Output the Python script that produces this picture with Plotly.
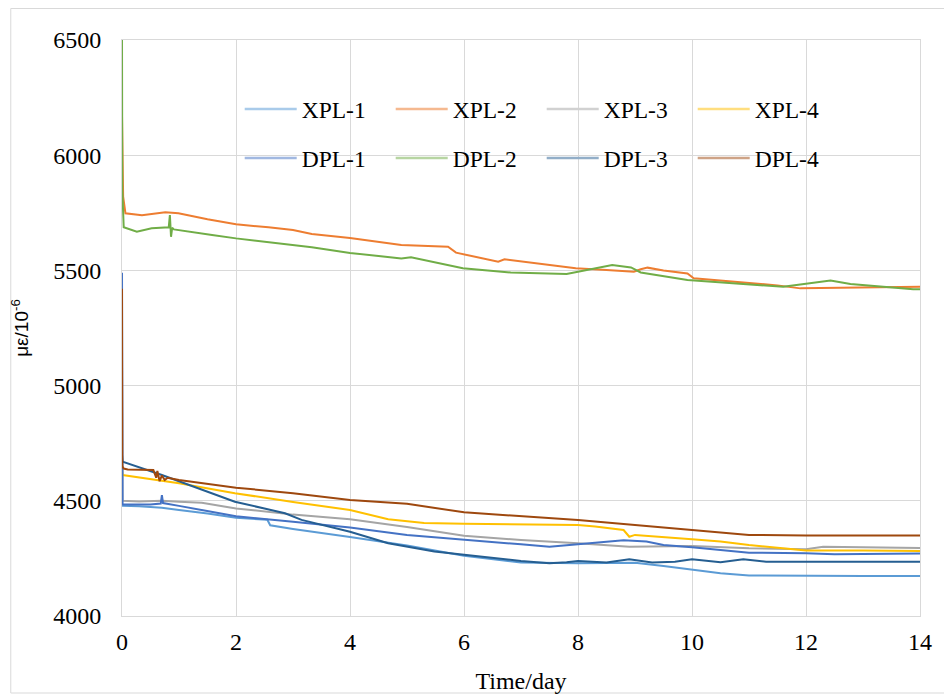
import plotly.graph_objects as go

# ---------------- data ----------------
XPL1_T = [0, 0.01, 0.3, 0.7, 1, 1.5, 2, 2.55, 2.6, 3, 4, 5, 6, 7, 8, 8.5, 9, 9.5, 10, 10.5, 11, 12, 13, 14]
XPL1_V = [4480, 4478, 4476, 4470, 4460, 4445, 4426, 4418, 4394, 4378, 4343, 4306, 4262, 4232, 4229, 4231, 4231, 4217, 4202, 4186, 4176, 4174, 4174, 4174]

XPL2_T = [0, 0.02, 0.06, 0.35, 0.76, 0.99, 1.5, 2, 2.57, 3, 3.33, 4, 4.9, 5.72, 5.86, 6.6, 6.71, 7.96, 8.5, 8.98, 9.1, 9.22, 9.5, 9.92, 10.03, 10.73, 11.5, 11.9, 13.07, 14]
XPL2_V = [6170, 5820, 5748, 5739, 5752, 5748, 5722, 5700, 5687, 5675, 5658, 5641, 5610, 5603, 5577, 5538, 5548, 5509, 5502, 5494, 5505, 5512, 5500, 5487, 5466, 5451, 5435, 5422, 5425, 5429]

XPL3_T = [0, 0.01, 0.3, 0.7, 1, 1.4, 2, 3, 4, 5, 6, 7, 8, 8.9, 10, 11, 12, 12.3, 13, 14]
XPL3_V = [5100, 4500, 4497, 4500, 4496, 4492, 4467, 4440, 4420, 4386, 4348, 4330, 4316, 4301, 4304, 4294, 4290, 4301, 4298, 4295]

XPL4_T = [0, 0.01, 1, 1.98, 3, 4, 4.67, 5.3, 6, 7, 8, 8.3, 8.8, 8.9, 9, 10, 10.5, 11, 11.5, 12, 13, 14]
XPL4_V = [4640, 4612, 4576, 4533, 4495, 4460, 4420, 4404, 4400, 4398, 4395, 4388, 4373, 4344, 4352, 4333, 4323, 4308, 4297, 4284, 4284, 4282]

DPL1_T = [0, 0.01, 0.5, 0.68, 0.7, 0.72, 1, 2, 3, 4, 5, 6, 7, 7.5, 8, 8.4, 8.8, 9.2, 9.5, 10, 10.5, 11, 12, 12.5, 14]
DPL1_V = [5490, 4484, 4484, 4488, 4525, 4490, 4478, 4433, 4409, 4384, 4352, 4330, 4311, 4301, 4312, 4323, 4329, 4323, 4308, 4298, 4287, 4275, 4272, 4268, 4271]

DPL2_T = [0, 0.005, 0.03, 0.26, 0.52, 0.82, 0.84, 0.86, 0.88, 0.91, 1.58, 2, 3.33, 4, 4.9, 5.07, 5.98, 6.82, 7.8, 8.17, 8.6, 8.93, 9.1, 9.92, 10.73, 11.6, 12.43, 12.78, 13.88, 14]
DPL2_V = [6500, 5850, 5687, 5668, 5683, 5687, 5740, 5646, 5685, 5678, 5654, 5639, 5600, 5576, 5552, 5557, 5509, 5491, 5484, 5502, 5523, 5513, 5491, 5458, 5444, 5429, 5456, 5441, 5418, 5418]

DPL3_T = [0, 0.01, 0.7, 1.17, 1.98, 2.86, 3.15, 4, 4.67, 5.48, 6.3, 7, 7.5, 7.8, 8, 8.5, 8.9, 9.3, 9.7, 10, 10.5, 10.9, 11.3, 12, 13, 14]
DPL3_V = [4700, 4670, 4612, 4569, 4496, 4446, 4417, 4366, 4316, 4280, 4258, 4239, 4229, 4233, 4239, 4232, 4246, 4232, 4236, 4246, 4233, 4246, 4236, 4236, 4236, 4236]

DPL4_T = [0, 0.005, 0.03, 0.1, 0.55, 0.6, 0.62, 0.66, 0.7, 0.75, 0.8, 1, 2, 3, 4, 5, 6, 7, 8, 9, 10, 10.5, 11, 12, 13, 14]
DPL4_V = [5420, 4650, 4640, 4636, 4634, 4600, 4630, 4585, 4610, 4590, 4600, 4590, 4557, 4533, 4503, 4487, 4450, 4432, 4417, 4395, 4373, 4360, 4352, 4349, 4350, 4349]

NAMES = ["XPL-1", "XPL-2", "XPL-3", "XPL-4", "DPL-1", "DPL-2", "DPL-3", "DPL-4"]
COLORS = ["#5B9BD5", "#ED7D31", "#A5A5A5", "#FFC000", "#4472C4", "#70AD47", "#255E91", "#9E480E"]
LEGEND_COLORS = ["#A9CBEA", "#F5B990", "#D1D1D1", "#FFDE7F", "#A1B8E1", "#B7D5A2", "#92AEC8", "#CEA386"]
SERIES = [(XPL1_T, XPL1_V), (XPL2_T, XPL2_V), (XPL3_T, XPL3_V), (XPL4_T, XPL4_V),
          (DPL1_T, DPL1_V), (DPL2_T, DPL2_V), (DPL3_T, DPL3_V), (DPL4_T, DPL4_V)]

X_TICKS = [0, 2, 4, 6, 8, 10, 12, 14]
Y_TICKS = [4000, 4500, 5000, 5500, 6000, 6500]

SERIF = "Liberation Serif"
SANS = "Liberation Sans"
GRID = "#D9D9D9"

# figure coordinates (page has an 8px body margin)
L, T, PW, PH = 112, 32, 800, 576
W, H = 952, 698

fig = go.Figure()
for (t, v), name, col in zip(SERIES, NAMES, COLORS):
    fig.add_trace(go.Scatter(x=t, y=v, mode="lines", name=name,
                             line=dict(color=col, width=2),
                             showlegend=False, hoverinfo="skip"))

# legend entries (lighter line samples as in the reference)
for i, (name, col) in enumerate(zip(NAMES, LEGEND_COLORS)):
    fig.add_trace(go.Scatter(x=[None], y=[None], mode="lines", name=name,
                             line=dict(color=col, width=2.5),
                             legend="legend" if i < 4 else "legend2"))

leg_common = dict(orientation="h", xanchor="left", yanchor="middle",
                  font=dict(family=SERIF, size=23.5, color="#000000"),
                  bgcolor="rgba(0,0,0,0)", entrywidth=84, entrywidthmode="pixels",
                  itemwidth=52, tracegroupgap=0)

fig.update_layout(
    width=W, height=H,
    margin=dict(l=L, r=W - L - PW, t=T, b=H - T - PH),
    paper_bgcolor="white", plot_bgcolor="white",
    font=dict(family=SERIF, size=24, color="#000000"),
    showlegend=True,
    legend=dict(x=0.1475, y=0.8797, **leg_common),
    legend2=dict(x=0.1475, y=0.7946, **leg_common),
    xaxis=dict(range=[0, 14], tickvals=X_TICKS, ticktext=[str(v) for v in X_TICKS],
               showgrid=True, gridcolor=GRID, gridwidth=1,
               showline=True, linecolor=GRID, linewidth=1, mirror=True,
               zeroline=False, ticks="", ticklabelstandoff=4,
               tickfont=dict(family=SERIF, size=24, color="#000000"),
               title=dict(text="Time/day", font=dict(family=SERIF, size=24), standoff=18)),
    yaxis=dict(range=[4000, 6500], tickvals=Y_TICKS, ticktext=[str(v) for v in Y_TICKS],
               showgrid=True, gridcolor=GRID, gridwidth=1,
               showline=True, linecolor=GRID, linewidth=1, mirror=True,
               zeroline=False, ticks="", ticklabelstandoff=15,
               tickfont=dict(family=SERIF, size=24, color="#000000"),
               title=dict(text="με/10<sup>-6</sup>",
                          font=dict(family=SANS, size=19),
                          standoff=20)),
)

# outer chart-area border
fig.add_shape(type="rect", xref="paper", yref="paper",
              x0=(0.5 - L) / PW, x1=(937 - L) / PW,
              y0=(T + PH - 685) / PH, y1=(T + PH - 0.5) / PH,
              line=dict(color=GRID, width=1), fillcolor="rgba(0,0,0,0)", layer="below")

fig.write_html("out.html")
